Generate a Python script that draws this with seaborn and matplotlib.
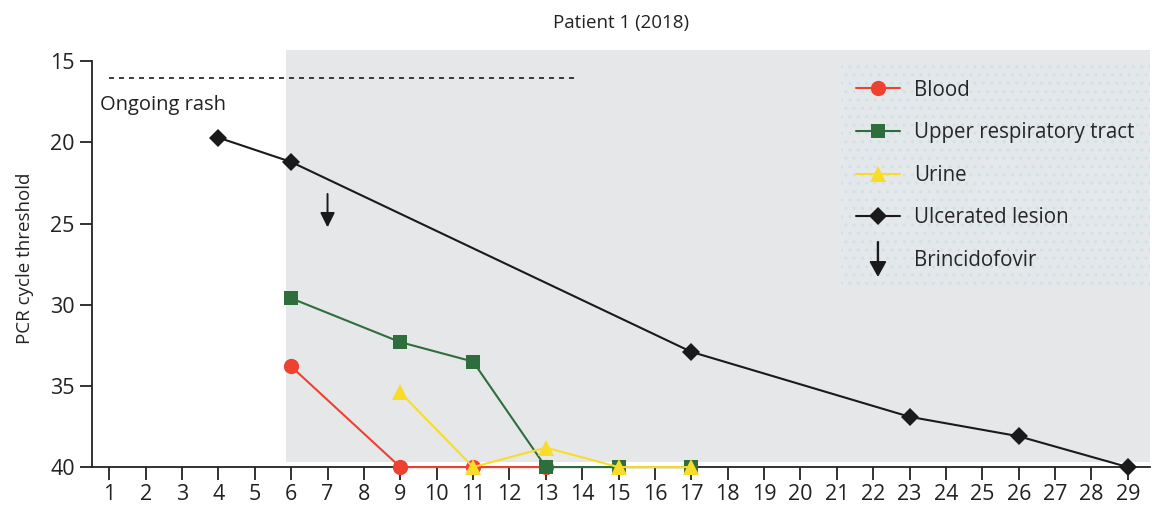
import pandas as pd
import matplotlib
matplotlib.use("Agg")
import matplotlib.pyplot as plt
import matplotlib.patches as mpatches
from matplotlib.lines import Line2D
from matplotlib.legend_handler import HandlerPatch
import seaborn as sns

# data (day of illness vs PCR Ct)
blood_days = [6, 9, 11, 13]
blood_ct = [33.8, 40, 40, 40]
urt_days = [6, 9, 11, 13, 15, 17]
urt_ct = [29.6, 32.3, 33.5, 40, 40, 40]
urine_days = [9, 11, 13, 15, 17]
urine_ct = [35.4, 40, 38.8, 40, 40]
lesion_days = [4, 6, 17, 23, 26, 29]
lesion_ct = [19.7, 21.2, 32.9, 36.9, 38.1, 40]
brincidofovir_day = 7
days = list(range(1, 30))

RED = "#ee4130"
GREEN = "#2e6e3c"
YELLOW = "#f9dc2a"
BLACK = "#1a1a1a"

sns.set_theme(style="ticks")
plt.rcParams["font.family"] = ["Open Sans", "DejaVu Sans"]

fig = plt.figure(figsize=(11.52, 5.15), dpi=100)
ax = fig.add_axes([0.08, 0.093, 0.918, 0.81])

# shaded treatment period
ax.axvspan(5.85, 30, ymin=0.012, ymax=1, color="#e6e7e9", lw=0, zorder=0)

series = [
    ("Blood", blood_days, blood_ct, RED, "o", 11),
    ("Upper respiratory tract", urt_days, urt_ct, GREEN, "s", 10.5),
    ("Urine", urine_days, urine_ct, YELLOW, "^", 12),
    ("Ulcerated lesion", lesion_days, lesion_ct, BLACK, "D", 9.5),
]
handles = []
for name, x, y, col, mk, ms in series:
    df = pd.DataFrame({"day": x, "ct": y})
    sns.lineplot(data=df, x="day", y="ct", ax=ax, color=col, marker=mk,
                 markersize=ms, markeredgewidth=0, linewidth=1.5, zorder=3,
                 clip_on=False)
    handles.append(Line2D([], [], color=col, marker=mk, markersize=ms,
                          markeredgewidth=0, linewidth=1.5, label=name))

# brincidofovir arrow
ax.annotate("", xy=(brincidofovir_day, 25.4), xytext=(brincidofovir_day, 23.0),
            arrowprops=dict(arrowstyle="-|>", color=BLACK, lw=1.4,
                            mutation_scale=22), zorder=4)

# ongoing rash
ax.plot([1, 13.8], [16, 16], color=BLACK, lw=1.2, ls=(0, (3, 3)))
ax.text(0.75, 17.7, "Ongoing rash", fontsize=14.5, va="center", ha="left", color="#222")


def make_arrow(legend, orig_handle, xdescent, ydescent, width, height, fontsize):
    cx = width / 2 - xdescent
    return mpatches.FancyArrow(cx, height + 7, 0, -height - 14, width=0.7,
                               head_width=11, head_length=10,
                               length_includes_head=True, color=BLACK)


arrow_handle = mpatches.Patch(color=BLACK, label="Brincidofovir")
handles.append(arrow_handle)
leg = ax.legend(handles=handles, loc="upper right", bbox_to_anchor=(1.0, 0.966),
                frameon=True, fontsize=14.8, handlelength=2.1, labelspacing=1.05,
                borderpad=0.75, borderaxespad=0, handletextpad=0.7, fancybox=False,
                handler_map={arrow_handle: HandlerPatch(patch_func=make_arrow)})
frame = leg.get_frame()
frame.set_facecolor("#e4e8ea")
frame.set_edgecolor("#cfe3e6")
frame.set_hatch("..")
frame.set_linewidth(0)
frame.set_alpha(1)

ax.set_xlim(0.53, 29.6)
ax.set_ylim(40, 14.3)
ax.set_xticks(days)
ax.set_yticks([15, 20, 25, 30, 35, 40])
ax.spines["left"].set_bounds(15, 40)
ax.spines["top"].set_visible(False)
ax.spines["right"].set_visible(False)
for s in ("left", "bottom"):
    ax.spines[s].set_color("#222")
    ax.spines[s].set_linewidth(1.3)
ax.tick_params(axis="both", labelsize=15.5, colors="#222", width=1.3, length=9,
               direction="out")
ax.set_xlabel("")
ax.set_ylabel("PCR cycle threshold", fontsize=13.5, color="#222", labelpad=12)
ax.set_title("Patient 1 (2018)", fontsize=13.5, color="#222", pad=16)

fig.savefig("out.png", dpi=100)
